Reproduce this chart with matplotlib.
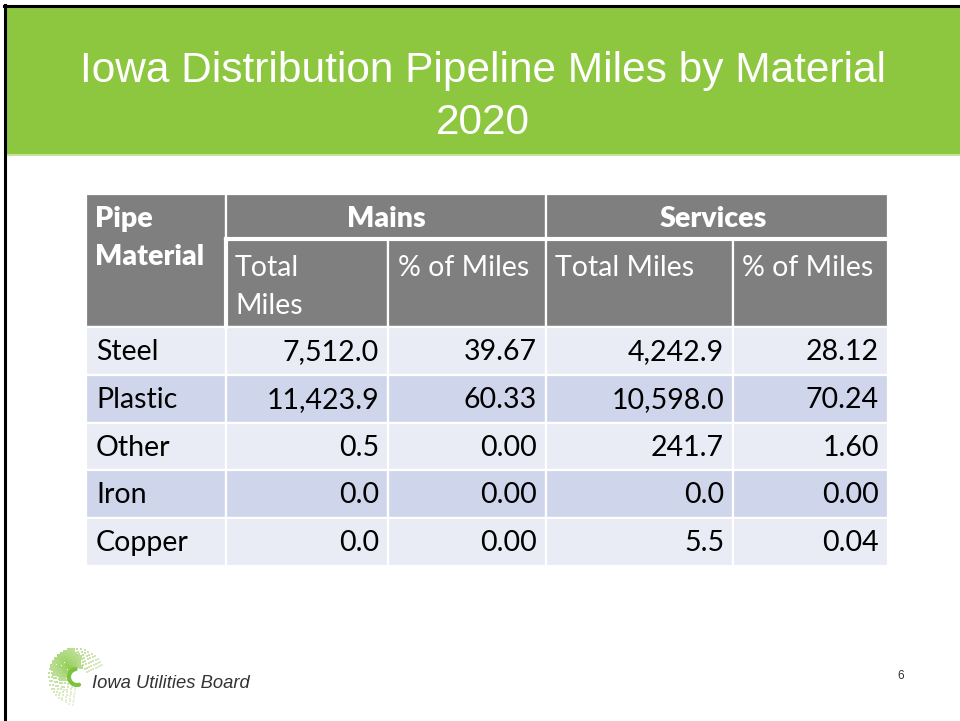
import numpy as np
import matplotlib.pyplot as plt
from matplotlib.patches import Rectangle

title = "Iowa Distribution Pipeline Miles by Material\n2020"
materials = ["Steel", "Plastic", "Other", "Iron", "Copper"]
mains_miles = ["7,512.0", "11,423.9", "0.5", "0.0", "0.0"]
mains_pct = ["39.67", "60.33", "0.00", "0.00", "0.00"]
serv_miles = ["4,242.9", "10,598.0", "241.7", "0.0", "5.5"]
serv_pct = ["28.12", "70.24", "1.60", "0.00", "0.04"]
groups = ["Mains", "Services"]
sub_headers = ["Total\nMiles", "% of Miles", "Total Miles", "% of Miles"]

GREEN = "#8dc63f"
HEAD = "#7f7f7f"
ROW_A = "#e9ebf5"
ROW_B = "#cfd5ea"
FONT = "Lato"
FS = 20.5

fig = plt.figure(figsize=(9.6, 7.21), dpi=100)
ax = fig.add_axes([0, 0, 1, 1])
ax.set_xlim(0, 960)
ax.set_ylim(721, 0)
ax.axis("off")

# slide frame and title band
ax.add_patch(Rectangle((6, 7), 960, 147, color=GREEN, lw=0))
ax.add_patch(Rectangle((5, 154), 960, 1.5, color="#c5e29c", lw=0))
ax.plot([4, 960], [6, 6], color="black", lw=2.2)
ax.plot([5, 5], [5, 721], color="black", lw=2.2)
ax.text(483, 71, title.split("\n")[0], ha="center", va="center", color="white",
        fontsize=30.5, family="Liberation Sans")
ax.text(483, 123, title.split("\n")[1], ha="center", va="center", color="white",
        fontsize=30.5, family="Liberation Sans")

# table geometry
cols = [86, 226, 388, 546, 733, 888]
h1, h2, h3 = 194, 239, 327
row_h = 47.8

def cell(x0, y0, x1, y1, fc):
    ax.add_patch(Rectangle((x0, y0), x1 - x0, y1 - y0, facecolor=fc,
                           edgecolor="white", lw=1.6))

cell(cols[0], h1, cols[1], h3, HEAD)
cell(cols[1], h1, cols[3], h2, HEAD)
cell(cols[3], h1, cols[5], h2, HEAD)
for i in range(4):
    cell(cols[i + 1], h2, cols[i + 2], h3, HEAD)
ax.plot([cols[1], cols[5]], [h2, h2], color="white", lw=3)
ax.plot([cols[1], cols[1]], [h2, h3], color="white", lw=3)

ax.text(95, 219, "Pipe", ha="left", va="center", color="white",
        fontsize=FS, family=FONT, weight="heavy")
ax.text(95, 257, "Material", ha="left", va="center", color="white",
        fontsize=FS, family=FONT, weight="heavy")
ax.text((cols[1] + cols[3]) / 2, 219, groups[0], ha="center", va="center",
        color="white", fontsize=FS, family=FONT, weight="heavy")
ax.text((cols[3] + cols[5]) / 2 - 4, 219, groups[1], ha="center", va="center",
        color="white", fontsize=FS, family=FONT, weight="heavy")
for i, s in enumerate(sub_headers):
    x0 = cols[i + 1] + 9 if i != 1 else cols[i + 1] + 10
    ax.text(x0, 255, s, ha="left", va="top", color="white",
            fontsize=FS, family=FONT, linespacing=1.55)

values = [materials, mains_miles, mains_pct, serv_miles, serv_pct]
for r in range(len(materials)):
    y0 = h3 + r * row_h
    fc = ROW_A if r % 2 == 0 else ROW_B
    for c in range(5):
        cell(cols[c], y0, cols[c + 1], y0 + row_h, fc)
        txt = values[c][r]
        if c == 0:
            ax.text(cols[c] + 10, y0 + row_h / 2 + 1, txt, ha="left",
                    va="center", fontsize=FS, family=FONT, color="black")
        else:
            ax.text(cols[c + 1] - 9, y0 + row_h / 2 + 1, txt, ha="right",
                    va="center", fontsize=FS, family=FONT, color="black")

# logo: dotted swirl
cx, cy = 77, 677
for k, rad in enumerate(np.arange(11, 30, 2.4)):
    n = int(rad * 1.1)
    for ang in np.linspace(np.radians(25), np.radians(262), n):
        x = cx + rad * np.cos(ang)
        y = cy - rad * np.sin(ang)
        mid = abs(ang - np.radians(130)) / np.radians(140)
        w = max(0.0, 1 - mid) * (1 - 0.35 * (rad - 11) / 19)
        col = (0.55 + 0.4 * (1 - w), 0.8 + 0.15 * (1 - w), 0.3 + 0.6 * (1 - w))
        ax.scatter(x, y, s=1.5 + 6 * w, color=col, lw=0, marker="s")
arc = np.linspace(np.radians(100), np.radians(285), 40)
ax.plot(cx + 8 * np.cos(arc), cy - 8 * np.sin(arc), color="#7cc242", lw=3,
        solid_capstyle="round")
ax.text(92, 683, "Iowa Utilities Board", ha="left", va="center",
        fontsize=13.2, style="italic", family="Liberation Sans", color="#333333")

ax.text(901, 676, "6", ha="center", va="center", fontsize=8.5,
        family="Liberation Sans", color="#333333")

fig.savefig("out.png", dpi=100)
